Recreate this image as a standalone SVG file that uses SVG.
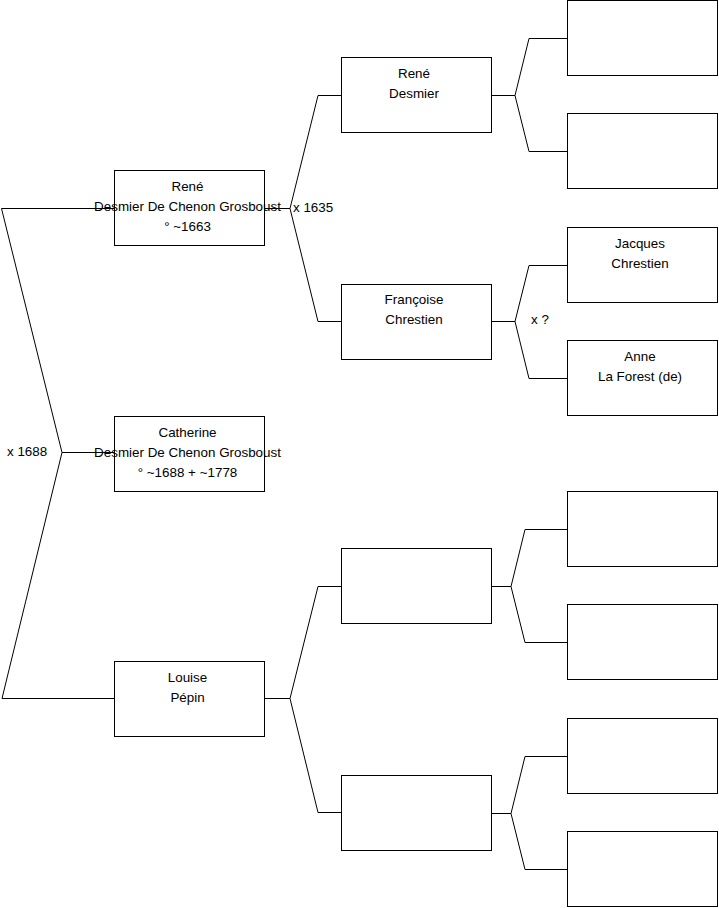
<svg xmlns="http://www.w3.org/2000/svg" width="719" height="908" viewBox="0 0 719 908">
<style>
.box{fill:#fff;stroke:#000;stroke-width:1}
.ln{fill:none;stroke:#000;stroke-width:1}
text{font-family:"Liberation Sans",Arial,sans-serif;font-size:13.4px;fill:#000}
.c{text-anchor:middle}
</style>
<rect x="0" y="0" width="719" height="908" fill="#fff"/>
<g id="nodes">
<g id="rene"><rect class="box" x="114.5" y="170.5" width="150" height="75"/>
<text class="c" x="187.5" y="191">René</text><text class="c" x="187.5" y="211">Desmier De Chenon Grosboust</text><text class="c" x="187.5" y="231">° ~1663</text></g>
<g id="catherine"><rect class="box" x="114.5" y="416.5" width="150" height="75"/>
<text class="c" x="187.5" y="437">Catherine</text><text class="c" x="187.5" y="457">Desmier De Chenon Grosboust</text><text class="c" x="187.5" y="477">° ~1688 + ~1778</text></g>
<g id="louise"><rect class="box" x="114.5" y="661.5" width="150" height="75"/>
<text class="c" x="187.5" y="682">Louise</text><text class="c" x="187.5" y="702">Pépin</text></g>
<g id="rene-desmier"><rect class="box" x="341.5" y="57.5" width="150" height="75"/>
<text class="c" x="414" y="78">René</text><text class="c" x="414" y="98">Desmier</text></g>
<g id="francoise"><rect class="box" x="341.5" y="284.5" width="150" height="75"/>
<text class="c" x="414" y="304">Françoise</text><text class="c" x="414" y="324">Chrestien</text></g>
<g id="louise-father"><rect class="box" x="341.5" y="548.5" width="150" height="75"/></g>
<g id="louise-mother"><rect class="box" x="341.5" y="775.5" width="150" height="75"/></g>
<g id="g3a"><rect class="box" x="567.5" y="0.5" width="150" height="75"/></g>
<g id="g3b"><rect class="box" x="567.5" y="113.5" width="150" height="75"/></g>
<g id="jacques"><rect class="box" x="567.5" y="227.5" width="150" height="75"/>
<text class="c" x="640" y="248">Jacques</text><text class="c" x="640" y="268">Chrestien</text></g>
<g id="anne"><rect class="box" x="567.5" y="340.5" width="150" height="75"/>
<text class="c" x="640" y="361">Anne</text><text class="c" x="640" y="381">La Forest (de)</text></g>
<g id="g3e"><rect class="box" x="567.5" y="491.5" width="150" height="75"/></g>
<g id="g3f"><rect class="box" x="567.5" y="604.5" width="150" height="75"/></g>
<g id="g3g"><rect class="box" x="567.5" y="718.5" width="150" height="75"/></g>
<g id="g3h"><rect class="box" x="567.5" y="831.5" width="150" height="75"/></g>
</g>
<g id="connectors">
<path class="ln" d="M114,208.5 H1.5 L62,452.5 L2,698.5 H114 M62,452.5 H114"/>
<path class="ln" d="M265,208.5 H290 M318,95.5 L290,208.5 L318,321.5 M318,95.5 H341 M318,321.5 H341"/>
<path class="ln" d="M492,95.5 H515 L529,38.5 H567 M515,95.5 L529,151.5 H567"/>
<path class="ln" d="M492,321.5 H515 L529,265.5 H567 M515,321.5 L529,378.5 H567"/>
<path class="ln" d="M265,698.5 H290 L318,586.5 H341 M290,698.5 L318,812.5 H341"/>
<path class="ln" d="M492,586.5 H511 L525,529.5 H567 M511,586.5 L525,642.5 H567"/>
<path class="ln" d="M492,813.5 H511 L525,756.5 H567 M511,813.5 L525,869.5 H567"/>
</g>
<g id="labels">
<text x="293" y="212">x 1635</text>
<text x="7" y="456">x 1688</text>
<text x="531" y="324">x ?</text>
</g>
</svg>
